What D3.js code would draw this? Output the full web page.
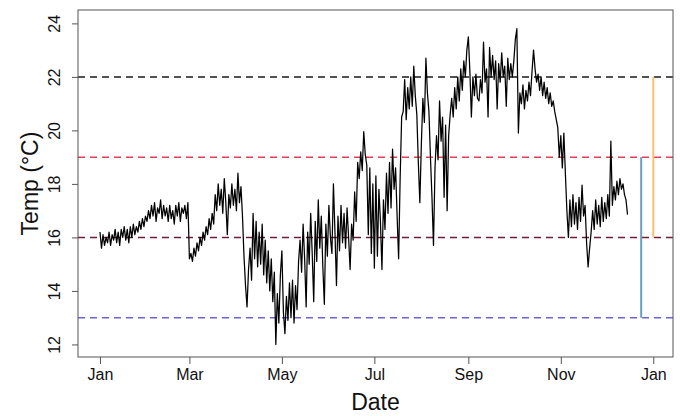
<!DOCTYPE html>
<html>
<head>
<meta charset="utf-8">
<script src="https://cdn.jsdelivr.net/npm/d3@7"></script>
<style>
  body { margin: 0; background: #fff; }
  svg { font-family: "Liberation Sans", Arial, Helvetica, sans-serif; }
</style>
</head>
<body>
<div id="chart"></div>
<script>

// daily readings, day 0 = 1 Jan
var startDate = new Date(Date.UTC(2017, 0, 1));
var temps = [
  // Jan
  16.2, 15.6, 16.1, 15.7, 16.0, 15.8, 16.2, 15.7, 16.1, 15.9,
  16.3, 15.8, 16.2, 15.7, 16.3, 16.0, 16.4, 15.9, 16.3, 15.8,
  16.4, 16.0, 16.5, 16.1, 16.4, 16.2, 16.6, 16.3, 16.7, 16.4, 16.8,
  // Feb
  16.6, 17.0, 16.7, 17.2, 16.8, 17.3, 16.6, 17.1, 16.9, 17.4,
  16.7, 17.2, 16.8, 17.1, 16.6, 17.2, 16.7, 17.0, 16.5, 17.2,
  16.8, 17.3, 16.6, 17.1, 16.9, 17.2, 16.7, 17.3,
  // Mar
  15.2, 15.4, 15.1, 15.6, 15.3, 15.8, 15.5, 16.0, 15.7, 16.2,
  15.9, 16.4, 16.1, 16.7, 16.3, 16.9, 16.5, 17.6, 17.0, 18.0,
  17.2, 17.8, 16.9, 18.2, 17.3, 16.1, 17.6, 17.1, 18.0, 17.2, 17.8,
  // Apr
  17.0, 18.4, 17.3, 17.9, 16.8, 15.3, 14.2, 13.4, 14.8, 15.6,
  14.4, 16.9, 15.2, 16.6, 14.9, 16.2, 15.0, 16.5, 14.6, 15.9,
  14.3, 15.5, 14.0, 15.2, 13.6, 14.7, 12.0, 13.9, 12.8, 14.6,
  // May
  15.5, 13.2, 12.4, 13.8, 12.9, 14.3, 13.0, 14.4, 12.8, 14.2,
  13.3, 15.1, 15.9, 14.7, 16.5, 15.2, 13.4, 16.2, 15.0, 16.9,
  15.4, 13.6, 16.6, 15.1, 17.4, 15.6, 16.8, 14.9, 13.5, 16.5, 15.3,
  // Jun
  17.2, 16.0, 15.4, 18.0, 16.2, 14.2, 16.8, 15.5, 17.2, 15.8,
  16.9, 15.6, 17.1, 16.0, 14.8, 16.5, 15.9, 17.7, 16.6, 18.8,
  18.2, 19.2, 18.5, 19.95, 19.1, 18.7, 16.1, 18.6, 15.4, 18.0,
  // Jul
  14.85, 18.3, 15.3, 17.8, 16.6, 14.8, 17.4, 16.3, 18.4, 16.9,
  18.8, 17.1, 19.3, 17.8, 18.6, 16.8, 15.2, 18.2, 20.5, 20.7,
  21.9, 20.4, 21.6, 20.8, 22.0, 20.9, 22.4, 21.3, 20.6, 18.8, 17.3,
  // Aug
  19.5, 21.2, 20.3, 22.7, 21.4, 20.7, 19.0, 17.5, 15.7, 18.6,
  19.8, 18.9, 21.1, 19.6, 20.5, 17.5, 20.2, 17.0, 19.8, 20.6,
  21.2, 20.5, 21.6, 20.8, 22.0, 21.1, 22.3, 21.5, 22.6, 22.0, 23.0,
  // Sep
  23.5, 22.2, 20.5, 22.0, 21.3, 22.1, 21.2, 21.1, 21.9, 21.4,
  23.3, 21.8, 22.3, 20.5, 23.1, 22.0, 22.8, 21.9, 22.6, 20.8,
  22.5, 21.8, 22.9, 22.0, 22.4, 20.9, 22.7, 21.9, 22.5, 22.0,
  // Oct
  22.6, 23.4, 23.8, 19.9, 21.4, 21.0, 21.7, 20.8, 21.5, 21.1,
  21.8, 21.3, 22.2, 23.0, 22.3, 21.8, 22.1, 21.5, 22.0, 21.3,
  21.8, 21.2, 21.6, 21.0, 21.4, 20.9, 21.1, 20.7, 20.4, 20.1, 19.0,
  // Nov
  19.8, 18.6, 19.9, 18.4, 17.0, 16.0, 17.4, 16.4, 17.6, 16.5,
  17.3, 16.3, 17.5, 16.6, 17.95, 16.8, 17.2, 15.8, 14.9, 15.6,
  16.2, 17.0, 16.3, 17.4, 16.5, 17.2, 16.4, 17.5, 16.6, 17.3,
  // Dec
  16.7, 17.6, 16.8, 19.6, 17.2, 17.9, 17.4, 18.1, 17.6, 18.2,
  17.8, 18.0, 17.6, 17.4, 16.85
];

// dashed reference levels
var levels = [22, 19, 16, 13];
var levelColors = ['#1a1a1a', '#e0404f', '#6b1e35', '#6f63d6'];

// vertical range bars
var barDates = ['2017-12-24', '2018-01-01'];
var barLow = [13, 16];
var barHigh = [19, 22];
var barColors = ['#6a9fc0', '#ffbf70'];

var tickDates = ['2017-01-01', '2017-03-01', '2017-05-01', '2017-07-01',
                 '2017-09-01', '2017-11-01', '2018-01-01'];
var yTicks = [12, 14, 16, 18, 20, 22, 24];

var width = 680, height = 416;
var box = { left: 78, right: 673, top: 10, bottom: 357 };

var svg = d3.select('#chart').append('svg')
  .attr('width', width)
  .attr('height', height);

var x = d3.scaleUtc()
  .domain([new Date(Date.UTC(2016, 11, 17, 12)), new Date(Date.UTC(2018, 0, 14))])
  .range([box.left, box.right]);

var y = d3.scaleLinear()
  .domain([11.53, 24.5])
  .range([box.bottom, box.top]);

var parse = d3.utcParse('%Y-%m-%d');
var dayMs = 24 * 3600 * 1000;

var series = temps.map(function (t, i) {
  return { date: new Date(startDate.getTime() + i * dayMs), temp: t };
});

// reference levels
svg.selectAll('line.level')
  .data(levels)
  .enter().append('line')
  .attr('class', 'level')
  .attr('x1', box.left)
  .attr('x2', box.right)
  .attr('y1', function (d) { return y(d); })
  .attr('y2', function (d) { return y(d); })
  .style('stroke', function (d, i) { return levelColors[i]; })
  .style('stroke-width', 1.5)
  .style('stroke-dasharray', '7,5');

// temperature trace
var line = d3.line()
  .x(function (d) { return x(d.date); })
  .y(function (d) { return y(d.temp); });

svg.append('path')
  .datum(series)
  .attr('d', line)
  .style('fill', 'none')
  .style('stroke', '#000')
  .style('stroke-width', 1.25)
  .style('stroke-linejoin', 'round');

// range bars
svg.selectAll('line.bar')
  .data(barDates)
  .enter().append('line')
  .attr('class', 'bar')
  .attr('x1', function (d) { return x(parse(d)); })
  .attr('x2', function (d) { return x(parse(d)); })
  .attr('y1', function (d, i) { return y(barLow[i]); })
  .attr('y2', function (d, i) { return y(barHigh[i]); })
  .style('stroke', function (d, i) { return barColors[i]; })
  .style('stroke-width', 2);

// box
svg.append('rect')
  .attr('x', box.left)
  .attr('y', box.top)
  .attr('width', box.right - box.left)
  .attr('height', box.bottom - box.top)
  .style('fill', 'none')
  .style('stroke', '#555')
  .style('stroke-width', 1);

// x axis
var xAxis = d3.axisBottom(x)
  .tickValues(tickDates.map(parse))
  .tickFormat(d3.utcFormat('%b'))
  .tickSize(7)
  .tickPadding(5);

var gx = svg.append('g')
  .attr('transform', 'translate(0,' + box.bottom + ')')
  .call(xAxis);
gx.select('.domain').remove();
gx.selectAll('line').style('stroke', '#555');
gx.selectAll('text').style('font-size', '16px').style('fill', '#111');

// y axis, labels rotated like base R
var yAxis = d3.axisLeft(y)
  .tickValues(yTicks)
  .tickSize(6)
  .tickPadding(0)
  .tickFormat(d3.format('d'));

var gy = svg.append('g')
  .attr('transform', 'translate(' + box.left + ',0)')
  .call(yAxis);
gy.select('.domain').remove();
gy.selectAll('line').style('stroke', '#555');
gy.selectAll('text')
  .attr('x', null).attr('dy', null)
  .attr('text-anchor', 'middle')
  .attr('transform', 'translate(-18,0) rotate(-90)')
  .style('font-size', '16px')
  .style('fill', '#111');

// axis titles
svg.append('text')
  .attr('x', (box.left + box.right) / 2)
  .attr('y', 410)
  .attr('text-anchor', 'middle')
  .style('font-size', '23px')
  .style('fill', '#111')
  .text('Date');

svg.append('text')
  .attr('transform', 'translate(38,' + (box.top + box.bottom) / 2 + ') rotate(-90)')
  .attr('text-anchor', 'middle')
  .style('font-size', '23px')
  .style('fill', '#111')
  .text('Temp (°C)');

</script>
</body>
</html>
